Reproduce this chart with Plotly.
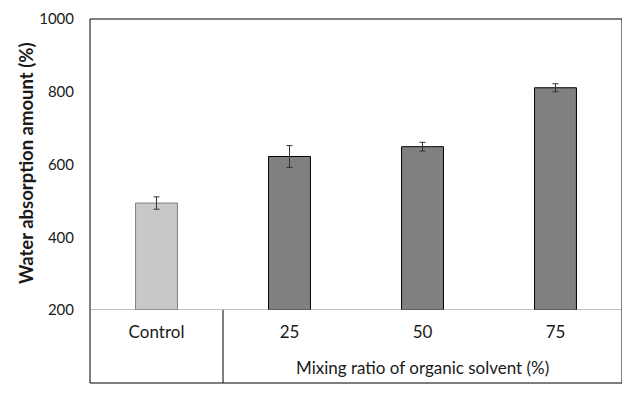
import plotly.graph_objects as go

categories = ["Control", "25", "50", "75"]
values = [494, 622, 649, 811]
errors = [17, 30, 12, 11]
y_ticks = [200, 400, 600, 800, 1000]
x_title = "Mixing ratio of organic solvent (%)"
y_title = "Water absorption amount (%)"

fill_colors = ["#c8c8c8", "#808080", "#808080", "#808080"]
line_colors = ["#7f7f7f", "#000000", "#000000", "#000000"]

# page body adds an 8px offset; figure sized so it fits the window
W, H = 622, 387
L, R, T, B = 82, 8, 11, 85
plot_w = W - L - R
plot_h = H - T - B
frame_bottom = -(375 - 302) / plot_h

fig = go.Figure()
fig.add_trace(go.Bar(
    x=categories, y=[v - 200 for v in values], base=200,
    width=0.315,
    marker=dict(color=fill_colors, line=dict(color=line_colors, width=1)),
    error_y=dict(type="data", array=errors, color="#333333", thickness=1, width=3),
    hoverinfo="skip",
))

font = "Lato, Noto Sans, sans-serif"
fig.update_layout(
    width=W, height=H,
    margin=dict(l=L, r=R, t=T, b=B, autoexpand=False),
    paper_bgcolor="white", plot_bgcolor="white",
    showlegend=False,
    font=dict(family=font, size=17, color="#1a1a1a"),
    xaxis=dict(range=[-0.5, 3.5], showgrid=False, showline=False, zeroline=False,
               automargin=False, ticks="", tickfont=dict(size=17), ticklabelstandoff=10),
    yaxis=dict(range=[200, 1000], tickvals=y_ticks, showgrid=False, showline=False,
               automargin=False, zeroline=False, ticks="", tickfont=dict(size=15),
               ticklabelstandoff=15),
    shapes=[
        dict(type="rect", xref="paper", yref="paper", x0=0, x1=1, y0=frame_bottom, y1=1,
             line=dict(color="black", width=1)),
        dict(type="line", xref="paper", yref="y", x0=0, x1=1, y0=200, y1=200,
             line=dict(color="#808080", width=1)),
        dict(type="line", xref="x", yref="paper", x0=0.5, x1=0.5, y0=frame_bottom, y1=0,
             line=dict(color="black", width=1)),
    ],
    annotations=[
        dict(text=x_title, xref="x", yref="paper", x=2, y=-(367 - 310) / plot_h,
             showarrow=False, font=dict(size=17), yanchor="middle"),
        dict(text="<b>" + y_title + "</b>", xref="paper", yref="paper",
             x=(18 - L) / plot_w, y=0.505, textangle=-90, showarrow=False,
             xanchor="center", yanchor="middle", font=dict(size=18.5)),
    ],
)

fig.write_html("out.html")
